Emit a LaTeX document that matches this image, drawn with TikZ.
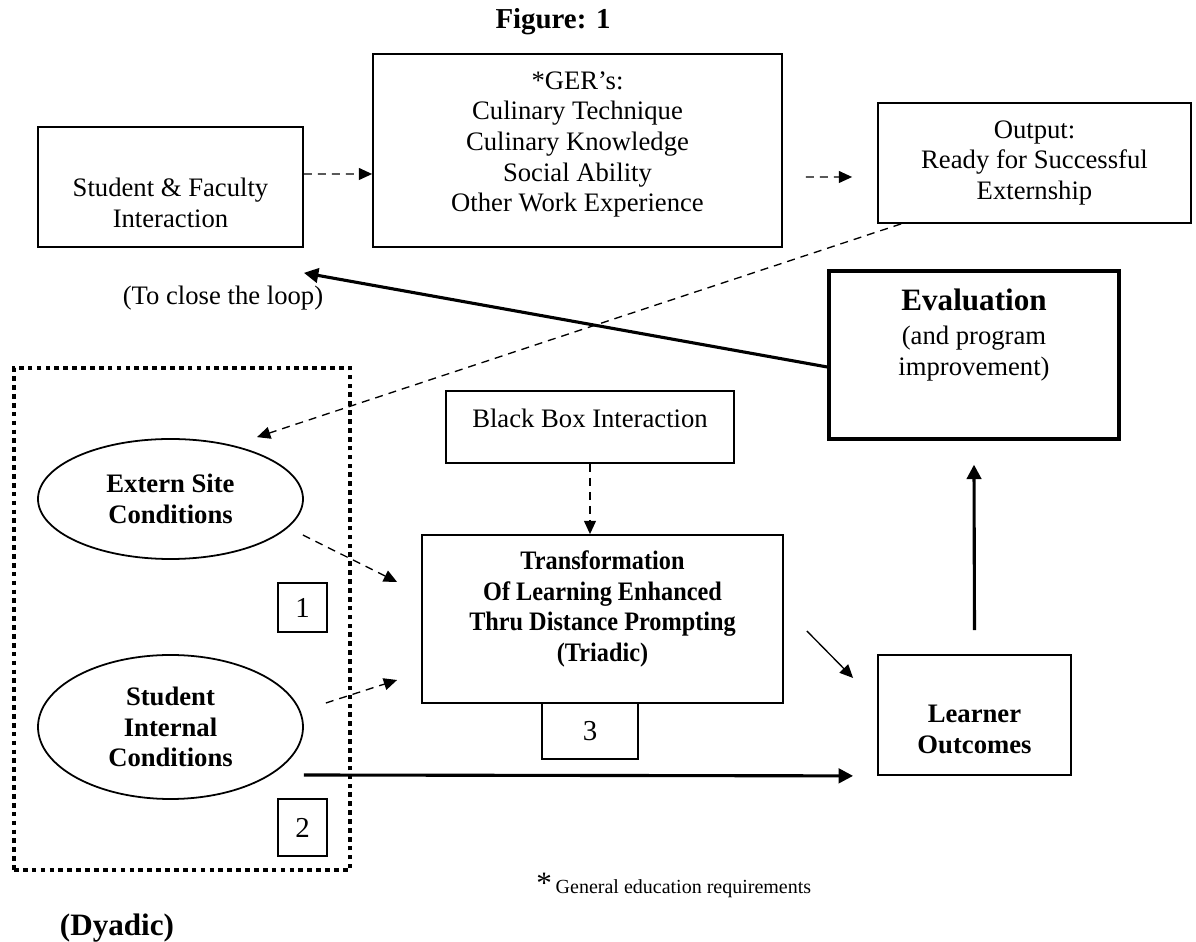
\documentclass[tikz,border=0pt]{standalone}
\usepackage{fontspec}
\setmainfont{Liberation Serif}
\newfontfamily\narrowserif[FakeStretch=0.91]{Liberation Serif}
\usepackage{tikz}
\usetikzlibrary{shapes.geometric, arrows.meta}

\newcommand{\padtop}[1]{\rule{0pt}{#1}}
\newcommand{\padbot}[1]{\rule[-#1]{0pt}{#1}}

\begin{document}
\begin{tikzpicture}[
  x=0.45pt, y=-0.45pt,
  box/.style={draw, line width=0.8pt, align=center, inner sep=2pt, font=\fontsize{12}{13.8}\selectfont},
  evalbox/.style={box, line width=1.5pt},
  oval/.style={draw, ellipse, line width=0.8pt, align=center, inner sep=0pt, minimum width=119.25pt, font=\fontsize{12}{13.8}\selectfont\bfseries},
  numbox/.style={draw, line width=0.8pt, minimum width=22pt, inner sep=0pt, font=\fontsize{13}{15}\selectfont},
  dyadframe/.style={draw, line width=1.4pt, dash pattern=on 2.1pt off 1.9pt, inner sep=0pt},
  dasharr/.style={-{Triangle[length=6pt,width=5.4pt]}, line width=0.6pt, dash pattern=on 3.6pt off 2.7pt},
  thinarr/.style={-{Triangle[length=6pt,width=5.4pt]}, line width=0.6pt},
  thickarr/.style={-{Triangle[length=6.5pt,width=6.5pt]}, line width=1.4pt}
]
\useasboundingbox (0,0) rectangle (1196,942);

\node[font=\fontsize{13}{15}\selectfont\bfseries] (title) at (553,22) {Figure: 1};

\node[box, minimum width=119.25pt, minimum height=54pt] (sfi) at (170.5,187) {\padtop{22.6pt}Student \& Faculty\\Interaction};
\node[box, minimum width=184.05pt, minimum height=86.85pt] (ger) at (577.5,150.5) {*GER’s:\\Culinary Technique\\Culinary Knowledge\\Social Ability\\Other Work Experience\padbot{8pt}};
\node[box, minimum width=140.85pt, minimum height=54pt] (output) at (1034.5,163) {Output:\\Ready for Successful\\Externship};
\node[evalbox, minimum width=130.5pt, minimum height=75.6pt] (eval) at (974,355) {{\fontsize{14}{16}\selectfont\bfseries Evaluation}\\[1.5pt](and program\\improvement)\padbot{20.6pt}};
\node[font=\fontsize{12}{13.8}\selectfont] (loop) at (223,298) {(To close the loop)};

\node[dyadframe, minimum width=151.2pt, minimum height=225.9pt] (dyad) at (182,619) {};
\node[oval, minimum height=54pt] (extern) at (170.5,499) {Extern Site\\Conditions};
\node[oval, minimum height=64.8pt] (internal) at (170.5,727) {Student\\Internal\\Conditions};
\node[numbox, minimum height=22pt] (one) at (302.5,607.5) {1};
\node[numbox, minimum height=25.65pt] (two) at (302.5,827.5) {2};
\node[font=\fontsize{14}{16}\selectfont\bfseries] (dyadic) at (117,928) {(Dyadic)};

\node[box, minimum width=129.6pt, minimum height=32.4pt] (blackbox) at (590,427) {Black Box Interaction\padbot{8pt}};
\node[box, minimum width=162.45pt, minimum height=75.6pt, font=\fontsize{12}{13.8}\selectfont\narrowserif\bfseries] (trans) at (602.5,619) {Transformation\\Of Learning Enhanced\\Thru Distance Prompting\\(Triadic)\padbot{11.6pt}};
\node[numbox, minimum width=43.2pt, minimum height=25.2pt] (three) at (590,731) {3};
\node[box, minimum width=86.85pt, minimum height=54pt, font=\fontsize{12}{13.8}\selectfont\bfseries] (learner) at (974.5,715) {\padtop{20.8pt}Learner\\Outcomes};

\node[anchor=west, inner sep=0pt] (note) at (536,885) {{\fontsize{14}{16}\selectfont *}\,{\fontsize{9}{11}\selectfont General education requirements}};

\draw[dasharr] ([shift={(0,-13)}]sfi.east) -- ([shift={(0,23.5)}]ger.west);
\draw[dasharr] ([shift={(23,26.5)}]ger.east) -- ([shift={(-25,14)}]output.west);
\draw[dasharr] ([shift={(24,0)}]output.south west) -- ([shift={(86.5,-1)}]extern.north);
\draw[dasharr] ([shift={(-1,36)}]extern.east) -- ([shift={(-24,-37)}]trans.west);
\draw[dasharr] ([shift={(22,-24)}]internal.east) -- ([shift={(-24,61)}]trans.west);
\draw[dasharr] (blackbox.south) -- (blackbox.south |- trans.north);
\draw[thinarr] ([shift={(23,12)}]trans.east) -- ([shift={(-24,-37)}]learner.west);
\draw[thickarr] ([shift={(0,48)}]internal.east) -- ([shift={(-24,0)}]learner.south west);
\draw[thickarr] ([shift={(0,-24)}]learner.north) -- ([shift={(0,24)}]eval.south);
\draw[thickarr] ([shift={(0,12)}]eval.west) -- ([shift={(0,25)}]sfi.south east);

\end{tikzpicture}
\end{document}
